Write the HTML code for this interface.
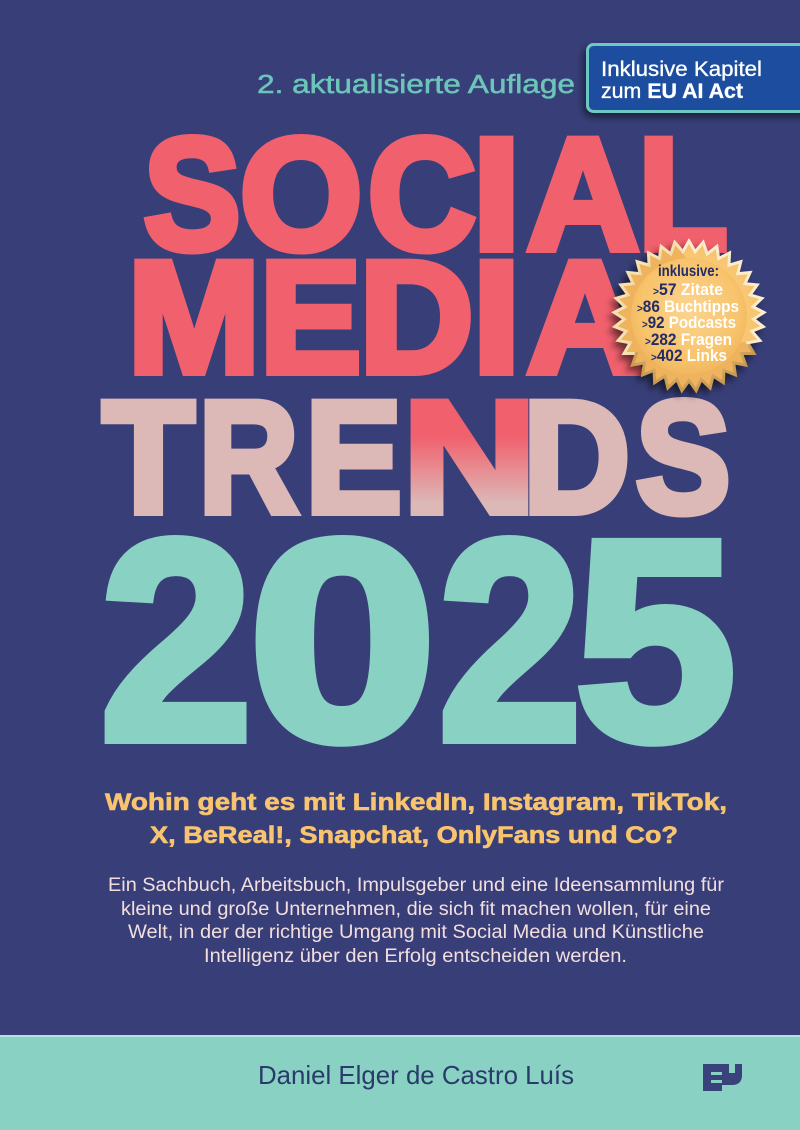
<!DOCTYPE html>
<html>
<head>
<meta charset="utf-8">
<style>
  html,body{margin:0;padding:0;}
  body{width:800px;height:1130px;overflow:hidden;background:#383f78;}
  svg{display:block;}
</style>
</head>
<body>
<svg width="800" height="1130" viewBox="0 0 800 1130" xmlns="http://www.w3.org/2000/svg">
  <defs>
    <linearGradient id="nGrad" gradientUnits="userSpaceOnUse" x1="0" y1="393" x2="0" y2="516">
      <stop offset="0" stop-color="#f1606d"/>
      <stop offset="0.35" stop-color="#f1606d"/>
      <stop offset="0.9" stop-color="#dcb9b7"/>
      <stop offset="1" stop-color="#dcb9b7"/>
    </linearGradient>
    <radialGradient id="goldGrad" cx="0.5" cy="0.45" r="0.6">
      <stop offset="0" stop-color="#fcd491"/>
      <stop offset="0.7" stop-color="#f8c46c"/>
      <stop offset="1" stop-color="#eeb35c"/>
    </radialGradient>
    <linearGradient id="rimGrad" x1="0" y1="0" x2="1" y2="1">
      <stop offset="0" stop-color="#fffaf0"/>
      <stop offset="0.5" stop-color="#f6e2b4"/>
      <stop offset="1" stop-color="#c9984c"/>
    </linearGradient>
    <filter id="blur4" x="-30%" y="-30%" width="160%" height="160%">
      <feGaussianBlur stdDeviation="3.5"/>
    </filter>
    <filter id="badgeShadow" x="-20%" y="-40%" width="140%" height="180%">
      <feDropShadow dx="-2" dy="4" stdDeviation="4" flood-color="#000" flood-opacity="0.55"/>
    </filter>
    <polygon id="trO" points="0,-78 67.55,39 -67.55,39"/>
    <polygon id="trI" points="0,-72 62.35,36 -62.35,36"/>
    <g id="starO">
      <use href="#trO" transform="rotate(0)"/>
      <use href="#trO" transform="rotate(10.909)"/>
      <use href="#trO" transform="rotate(21.818)"/>
      <use href="#trO" transform="rotate(32.727)"/>
      <use href="#trO" transform="rotate(43.636)"/>
      <use href="#trO" transform="rotate(54.545)"/>
      <use href="#trO" transform="rotate(65.455)"/>
      <use href="#trO" transform="rotate(76.364)"/>
      <use href="#trO" transform="rotate(87.273)"/>
      <use href="#trO" transform="rotate(98.182)"/>
      <use href="#trO" transform="rotate(109.091)"/>
    </g>
    <g id="starI">
      <use href="#trI" transform="rotate(0)"/>
      <use href="#trI" transform="rotate(10.909)"/>
      <use href="#trI" transform="rotate(21.818)"/>
      <use href="#trI" transform="rotate(32.727)"/>
      <use href="#trI" transform="rotate(43.636)"/>
      <use href="#trI" transform="rotate(54.545)"/>
      <use href="#trI" transform="rotate(65.455)"/>
      <use href="#trI" transform="rotate(76.364)"/>
      <use href="#trI" transform="rotate(87.273)"/>
      <use href="#trI" transform="rotate(98.182)"/>
      <use href="#trI" transform="rotate(109.091)"/>
    </g>
  </defs>

  <!-- background -->
  <rect x="0" y="0" width="800" height="1130" fill="#383f78"/>

  <!-- top edition text -->
  <text x="257" y="93" font-family="Liberation Sans, sans-serif" font-size="25.5" fill="#6cc5b9" stroke="#6cc5b9" stroke-width="0.5" textLength="318" lengthAdjust="spacingAndGlyphs">2. aktualisierte Auflage</text>

  <!-- badge -->
  <g filter="url(#badgeShadow)">
    <rect x="587.5" y="44.5" width="240" height="67" rx="6" ry="6" fill="#1b4e9e" stroke="#6ec8c4" stroke-width="3"/>
  </g>
  <text x="601" y="76" font-family="Liberation Sans, sans-serif" font-size="21" fill="#ffffff" stroke="#ffffff" stroke-width="0.35" textLength="161" lengthAdjust="spacingAndGlyphs">Inklusive Kapitel</text>
  <text x="601" y="98" font-family="Liberation Sans, sans-serif" font-size="21" fill="#ffffff" stroke="#ffffff" stroke-width="0.35" textLength="142" lengthAdjust="spacingAndGlyphs">zum <tspan font-weight="700">EU AI Act</tspan></text>

  <!-- SOCIAL -->
  <g font-family="Liberation Sans, sans-serif" font-weight="700" font-size="159" fill="#f1606d" stroke="#f1606d" stroke-width="8" stroke-linejoin="miter">
    <text x="143.8" y="249" textLength="96.7" lengthAdjust="spacingAndGlyphs">S</text>
    <text x="239.9" y="249" textLength="122.5" lengthAdjust="spacingAndGlyphs">O</text>
    <text x="367.9" y="249" textLength="107.9" lengthAdjust="spacingAndGlyphs">C</text>
    <text x="472.4" y="249" textLength="48.3" lengthAdjust="spacingAndGlyphs">I</text>
    <text x="527" y="249" textLength="112" lengthAdjust="spacingAndGlyphs">A</text>
    <text x="638.3" y="249" textLength="89.3" lengthAdjust="spacingAndGlyphs">L</text>
  </g>

  <!-- MEDIA -->
  <g font-family="Liberation Sans, sans-serif" font-weight="700" font-size="159" fill="#f1606d" stroke="#f1606d" stroke-width="8" stroke-linejoin="miter">
    <text x="127.7" y="372" textLength="132.6" lengthAdjust="spacingAndGlyphs">M</text>
    <text x="259.9" y="372" textLength="101.3" lengthAdjust="spacingAndGlyphs">E</text>
    <text x="359.5" y="372" textLength="114" lengthAdjust="spacingAndGlyphs">D</text>
    <text x="472.4" y="372" textLength="48.3" lengthAdjust="spacingAndGlyphs">I</text>
    <text x="527" y="372" textLength="116" lengthAdjust="spacingAndGlyphs">A</text>
  </g>

  <!-- TRENDS -->
  <g font-family="Liberation Sans, sans-serif" font-weight="700" font-size="159" fill="#dcb9b7" stroke="#dcb9b7" stroke-width="8" stroke-linejoin="miter">
    <text x="102.7" y="512" textLength="91.6" lengthAdjust="spacingAndGlyphs">T</text>
    <text x="198.8" y="512" textLength="99.5" lengthAdjust="spacingAndGlyphs">R</text>
    <text x="305.5" y="512" textLength="96.3" lengthAdjust="spacingAndGlyphs">E</text>
    <text x="402.9" y="512" textLength="133.2" lengthAdjust="spacingAndGlyphs" fill="url(#nGrad)" stroke="url(#nGrad)">N</text>
    <text x="523.2" y="512" textLength="106.8" lengthAdjust="spacingAndGlyphs">D</text>
    <text x="635.9" y="512" textLength="94.5" lengthAdjust="spacingAndGlyphs">S</text>
  </g>

  <!-- 2025 -->
  <g font-family="Liberation Sans, sans-serif" font-weight="700" font-size="285" fill="#89d1c2" stroke="#89d1c2" stroke-width="10" stroke-linejoin="miter">
    <text x="99.9" y="739" textLength="152.8" lengthAdjust="spacingAndGlyphs">2</text>
    <text x="248.1" y="739" textLength="188.9" lengthAdjust="spacingAndGlyphs">0</text>
    <text x="438.3" y="739" textLength="143.6" lengthAdjust="spacingAndGlyphs">2</text>
    <text x="574.8" y="739" textLength="161.2" lengthAdjust="spacingAndGlyphs">5</text>
  </g>

  <!-- starburst -->
  <g transform="translate(685 321)" filter="url(#blur4)" fill="#000" opacity="0.55">
    <use href="#starO"/>
  </g>
  <g transform="translate(689 316)" fill="url(#rimGrad)">
    <use href="#starO"/>
  </g>
  <g transform="translate(689 316)" fill="url(#goldGrad)">
    <use href="#starI"/>
  </g>
  <circle cx="689" cy="316" r="58" fill="url(#goldGrad)"/>

  <g font-family="Liberation Sans, sans-serif" font-weight="700" font-size="17">
    <text x="658" y="276" font-size="16" fill="#232c66" textLength="61" lengthAdjust="spacingAndGlyphs">inklusive:</text>
    <text x="653" y="295" textLength="70" lengthAdjust="spacingAndGlyphs"><tspan font-size="11" fill="#232c66">&gt;</tspan><tspan fill="#232c66">57 </tspan><tspan fill="#ffffff">Zitate</tspan></text>
    <text x="637" y="312" textLength="102" lengthAdjust="spacingAndGlyphs"><tspan font-size="11" fill="#232c66">&gt;</tspan><tspan fill="#232c66">86 </tspan><tspan fill="#ffffff">Buchtipps</tspan></text>
    <text x="642" y="328" textLength="94" lengthAdjust="spacingAndGlyphs"><tspan font-size="11" fill="#232c66">&gt;</tspan><tspan fill="#232c66">92 </tspan><tspan fill="#ffffff">Podcasts</tspan></text>
    <text x="645" y="345" textLength="87" lengthAdjust="spacingAndGlyphs"><tspan font-size="11" fill="#232c66">&gt;</tspan><tspan fill="#232c66">282 </tspan><tspan fill="#ffffff">Fragen</tspan></text>
    <text x="651" y="361" textLength="76" lengthAdjust="spacingAndGlyphs"><tspan font-size="11" fill="#232c66">&gt;</tspan><tspan fill="#232c66">402 </tspan><tspan fill="#ffffff">Links</tspan></text>
  </g>

  <!-- yellow subtitle -->
  <g font-family="Liberation Sans, sans-serif" font-weight="700" font-size="24" fill="#f9c46f" stroke="#f9c46f" stroke-width="0.6">
    <text x="105" y="810" textLength="622" lengthAdjust="spacingAndGlyphs">Wohin geht es mit LinkedIn, Instagram, TikTok,</text>
    <text x="150" y="843" textLength="528" lengthAdjust="spacingAndGlyphs">X, BeReal!, Snapchat, OnlyFans und Co?</text>
  </g>

  <!-- paragraph -->
  <g font-family="Liberation Sans, sans-serif" font-size="19" fill="#f3dede">
    <text x="108" y="891" textLength="616" lengthAdjust="spacingAndGlyphs">Ein Sachbuch, Arbeitsbuch, Impulsgeber und eine Ideensammlung für</text>
    <text x="121" y="915" textLength="590" lengthAdjust="spacingAndGlyphs">kleine und große Unternehmen, die sich fit machen wollen, für eine</text>
    <text x="128" y="938" textLength="576" lengthAdjust="spacingAndGlyphs">Welt, in der der richtige Umgang mit Social Media und Künstliche</text>
    <text x="204" y="962" textLength="423" lengthAdjust="spacingAndGlyphs">Intelligenz über den Erfolg entscheiden werden.</text>
  </g>

  <!-- bottom bar -->
  <rect x="0" y="1036" width="800" height="94" fill="#89d1c2"/>
  <rect x="0" y="1035" width="800" height="2" fill="#b3e4dc"/>
  <text x="258" y="1084" font-family="Liberation Sans, sans-serif" font-size="26" fill="#2a3a6c" textLength="316" lengthAdjust="spacingAndGlyphs">Daniel Elger de Castro Luís</text>

  <!-- EP logo -->
  <g fill="#39427a">
    <rect x="703" y="1064" width="19" height="27"/>
    <path d="M722 1064 H742 V1075 Q742 1085 732 1085 H722 Z"/>
  </g>
  <g fill="#89d1c2">
    <rect x="711" y="1072" width="11" height="3"/>
    <rect x="711" y="1080" width="11" height="3"/>
    <rect x="729" y="1064" width="6" height="9"/>
  </g>
</svg>
</body>
</html>
